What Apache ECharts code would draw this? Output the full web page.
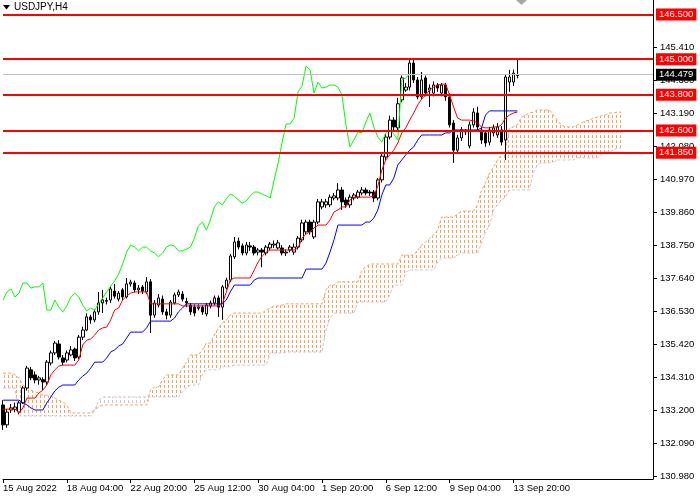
<!DOCTYPE html>
<html><head><meta charset="utf-8">
<script src="https://cdn.jsdelivr.net/npm/echarts@6/dist/echarts.min.js"></script>
<style>html,body{margin:0;padding:0;background:#fff}#c{width:700px;height:500px}</style>
</head><body><div id="c"></div>
<script>
// ---- tick labels ----
const timeTickLabels = ['15 Aug 2022','18 Aug 04:00','22 Aug 20:00','25 Aug 12:00','30 Aug 04:00','1 Sep 20:00','6 Sep 12:00','9 Sep 04:00','13 Sep 20:00'];
const priceTicks = [130.98,132.09,133.20,134.31,135.42,136.53,137.64,138.75,139.86,140.97,142.08,143.19,144.30,145.41];
const levelLines = [146.5,145.0,143.8,142.6,141.85];
const lastPrice = 144.479;
const symbolTitle = 'USDJPY,H4';
const barSlots = 164; // visible bar slots (H4 bars + future cloud)

// ---- H4 candles ----
const open = [133.37,132.70,133.20,133.22,133.13,133.44,133.94,134.55,134.38,134.21,
134.22,134.14,134.78,135.12,135.42,134.95,134.88,135.05,135.25,134.98,
135.65,135.89,136.33,136.23,136.50,136.80,136.88,136.90,137.20,136.93,
137.24,137.00,137.44,137.47,137.24,137.34,137.17,137.51,136.39,136.73,
136.93,136.50,136.39,136.80,137.07,137.10,136.85,136.73,136.66,136.62,
136.66,136.43,136.70,136.80,136.97,136.66,137.30,137.57,138.35,138.88,
138.72,138.48,138.72,138.68,138.51,138.58,138.48,138.65,138.75,138.65,
138.65,138.48,138.58,138.51,138.68,138.92,139.19,139.52,139.02,139.52,
140.03,140.10,140.10,140.33,140.33,140.60,140.26,140.10,140.33,140.36,
140.50,140.60,140.53,140.53,140.33,140.94,141.71,142.38,142.95,142.69,
143.63,143.96,144.06,144.87,144.30,143.73,144.37,143.96,143.86,144.13,
143.86,144.13,143.73,142.85,141.94,142.35,142.55,142.08,142.79,143.19,
142.62,142.52,142.21,142.52,142.45,142.62,142.28,144.23,144.23,144.45];
const close = [132.70,133.13,133.27,133.30,133.44,133.94,134.61,134.28,134.21,134.28,
134.14,134.81,135.12,135.45,134.98,134.81,135.12,135.22,134.95,135.65,
135.89,136.33,136.23,136.50,136.80,136.90,136.86,137.27,137.03,137.13,
137.00,137.44,137.50,137.24,137.30,137.20,137.51,136.39,136.80,136.97,
136.50,136.39,136.83,137.07,137.17,136.93,136.80,136.50,136.46,136.66,
136.50,136.73,136.80,136.97,136.66,137.34,137.57,138.38,138.85,138.68,
138.48,138.75,138.68,138.48,138.58,138.51,138.68,138.78,138.78,138.82,
138.48,138.51,138.68,138.68,138.98,139.49,139.52,139.19,139.52,140.20,
140.20,140.20,140.36,140.40,140.60,140.20,140.10,140.36,140.43,140.53,
140.60,140.50,140.50,140.33,140.94,141.74,142.38,142.95,142.72,143.50,
144.37,144.06,144.87,144.30,143.73,144.30,143.86,144.03,144.13,144.03,
144.13,143.73,142.79,141.94,142.35,142.62,142.58,142.79,143.22,142.72,
142.28,142.18,142.62,142.69,142.72,142.21,144.40,144.40,144.53,144.479];
const low = [132.53,132.60,133.10,133.12,133.05,133.40,133.85,134.20,134.10,134.05,
133.87,134.05,134.70,135.05,134.90,134.70,134.80,135.00,134.85,134.90,
135.55,135.85,136.10,136.15,136.40,136.46,136.75,136.80,136.95,136.85,
136.90,136.95,137.35,137.15,137.10,137.10,137.10,135.79,136.30,136.65,
136.40,136.25,136.30,136.75,137.00,136.85,136.66,136.40,136.35,136.55,
136.40,136.35,136.62,136.72,136.33,136.23,137.25,137.50,138.28,138.60,
138.40,138.40,138.55,138.40,138.40,138.00,138.40,138.58,138.65,138.60,
138.40,138.38,138.50,138.42,138.60,138.85,139.10,139.10,138.95,139.45,
139.95,140.00,140.02,140.25,140.25,139.93,140.00,140.00,140.25,140.30,
140.42,140.42,140.40,140.20,140.25,140.85,141.60,142.30,142.60,142.60,
143.55,143.90,143.95,144.20,143.65,143.65,143.75,143.39,143.75,143.90,
143.75,143.60,142.70,141.51,141.85,142.25,142.45,142.00,142.70,142.60,
142.15,142.05,142.10,142.40,142.35,142.10,141.61,143.90,144.10,144.35];
const high = [133.53,133.23,133.40,133.45,133.50,134.01,134.68,134.65,134.50,134.35,
134.30,134.88,135.20,135.52,135.55,135.05,135.20,135.35,135.30,135.72,
136.00,136.45,136.40,136.58,137.17,137.24,136.98,137.35,137.44,137.20,
137.30,137.64,137.58,137.55,137.40,137.40,137.67,137.60,136.90,137.10,
137.05,136.60,136.90,137.15,137.25,137.20,136.97,136.80,136.75,136.75,
136.72,136.80,136.88,137.05,137.05,137.40,137.65,138.45,139.02,139.00,
138.80,138.85,138.85,138.75,138.65,138.65,138.75,138.85,138.90,138.92,
138.75,138.60,138.75,138.80,139.05,139.60,139.60,139.60,139.60,140.30,
140.30,140.30,140.45,140.50,140.83,140.70,140.35,140.45,140.50,140.60,
140.70,140.68,140.60,140.60,141.00,141.85,142.50,143.10,143.05,143.70,
144.45,144.20,144.97,144.99,144.40,144.57,144.45,144.15,144.25,144.20,
144.20,144.20,143.85,142.95,142.45,142.72,142.65,142.90,143.35,143.40,
142.72,142.60,142.72,142.80,142.85,142.75,144.50,144.64,144.65,144.97];

// ---- Ichimoku lines ----
const tenkan = [133.23,133.23,133.23,133.23,133.10,133.27,133.60,133.60,133.60,133.77,
133.87,134.04,134.38,134.55,134.68,134.71,134.71,134.71,134.71,134.88,
135.39,135.55,135.59,135.72,135.89,135.96,135.99,136.23,136.56,136.63,
136.90,137.03,137.13,137.17,137.17,137.17,137.17,136.77,136.77,136.77,
136.77,136.77,136.77,136.77,136.77,136.70,136.70,136.70,136.70,136.70,
136.70,136.70,136.70,136.70,136.70,136.77,137.17,137.57,137.64,137.64,
137.64,137.64,137.64,137.91,138.18,138.38,138.51,138.58,138.58,138.58,
138.58,138.58,138.58,138.58,138.65,138.98,139.12,139.19,139.32,139.42,
139.42,139.42,139.59,139.86,139.93,140.03,140.03,140.26,140.36,140.36,
140.36,140.36,140.36,140.40,140.73,141.27,141.61,141.78,141.94,142.18,
142.52,142.69,142.95,143.19,143.46,143.66,143.79,143.96,144.06,144.13,
144.16,144.16,143.79,143.39,143.02,142.95,142.95,142.95,142.92,142.85,
142.72,142.69,142.69,142.72,142.72,142.79,143.02,143.12,143.19,143.22];
const kijun = [133.53,133.53,133.53,133.53,133.53,133.44,133.37,133.27,133.20,133.20,
133.20,133.44,133.64,133.84,133.97,134.04,134.04,134.04,134.04,134.21,
134.34,134.44,134.61,134.81,134.81,134.81,134.95,135.15,135.22,135.35,
135.42,135.62,135.82,135.82,135.82,135.82,135.96,136.19,136.19,136.19,
136.19,136.19,136.19,136.29,136.50,136.63,136.77,136.77,136.77,136.77,
136.77,136.77,136.77,136.77,136.77,136.77,136.90,137.17,137.40,137.40,
137.40,137.40,137.40,137.57,137.64,137.64,137.64,137.64,137.64,137.64,
137.64,137.64,137.64,137.64,137.64,137.64,137.94,137.94,137.94,137.94,
137.94,138.14,138.51,138.92,139.42,139.42,139.42,139.42,139.42,139.42,
139.42,139.52,139.52,139.66,139.93,140.43,140.77,140.77,141.00,141.44,
141.61,141.78,141.94,142.05,142.28,142.45,142.45,142.45,142.45,142.45,
142.45,142.52,142.52,142.62,142.62,142.62,142.62,142.62,142.62,142.62,
142.69,143.12,143.26,143.26,143.26,143.26,143.26,143.26,143.26,143.26];
const chikou = [136.90,137.17,137.27,137.00,137.13,137.47,137.47,137.30,137.34,137.34,
137.47,136.56,136.56,136.90,136.66,136.50,136.70,137.00,137.13,137.00,
136.73,136.53,136.63,136.56,136.77,136.97,137.17,137.37,137.54,137.77,
138.11,138.51,138.75,138.68,138.55,138.68,138.68,138.55,138.48,138.35,
138.48,138.68,138.75,138.72,138.55,138.55,138.61,138.68,138.98,139.39,
139.52,139.25,139.59,140.03,140.20,140.10,140.30,140.46,140.40,140.26,
140.16,140.23,140.40,140.53,140.53,140.46,140.40,140.33,140.94,141.51,
142.21,142.82,142.82,143.02,143.90,144.10,144.77,144.64,143.86,144.23,
144.03,144.06,144.13,144.13,144.06,143.79,142.79,142.05,142.28,142.55,
142.52,142.89,143.19,142.72,142.38,142.21,142.52,142.62,142.48,142.28,
144.30,144.37,144.50,144.47];
const spanA = [134.44,134.44,134.44,134.38,134.28,134.04,133.94,133.87,133.81,133.77,
133.70,133.70,133.67,133.60,133.53,133.47,133.37,133.10,133.10,133.10,
133.10,133.10,133.10,133.20,133.30,133.37,133.37,133.37,133.37,133.37,
133.37,133.37,133.37,133.37,133.37,133.37,133.37,133.87,133.97,133.97,
134.21,134.38,134.38,134.38,134.38,134.61,134.81,135.05,135.05,135.05,
135.22,135.45,135.45,135.72,135.96,136.13,136.23,136.39,136.46,136.46,
136.46,136.46,136.46,136.46,136.46,136.46,136.56,136.63,136.70,136.70,
136.73,136.77,136.77,136.77,136.77,136.77,136.77,136.77,136.77,136.77,
136.77,137.24,137.40,137.40,137.51,137.51,137.51,137.51,137.51,137.51,
137.91,138.01,138.11,138.11,138.11,138.11,138.11,138.11,138.11,138.11,
138.41,138.41,138.41,138.41,138.58,138.75,138.85,138.98,139.09,139.25,
139.69,139.69,139.69,139.69,139.79,139.89,139.89,139.89,139.89,140.10,
140.60,140.83,141.17,141.37,141.61,141.78,141.94,142.69,142.72,142.79,
143.05,143.12,143.19,143.22,143.29,143.29,143.29,143.29,143.12,142.95,
142.79,142.72,142.72,142.72,142.79,142.85,142.92,142.95,143.02,143.05,
143.09,143.12,143.19,143.19,143.22,143.22];
const spanB = [133.94,133.94,133.94,133.94,133.00,133.00,133.00,133.00,133.00,133.00,
133.00,133.00,133.00,133.00,133.00,133.00,133.00,133.00,133.00,133.00,
133.00,133.00,133.00,133.20,133.53,133.64,133.64,133.64,133.64,133.64,
133.64,133.64,133.64,133.64,133.64,133.64,133.64,133.64,133.64,133.64,
133.64,133.64,133.64,133.64,133.64,133.81,133.94,134.04,134.04,134.04,
134.38,134.55,134.55,134.55,134.55,134.65,134.65,134.65,134.71,134.71,
134.71,134.71,134.71,134.71,134.71,134.71,134.71,135.12,135.12,135.12,
135.12,135.15,135.15,135.15,135.15,135.15,135.15,135.15,135.15,135.15,
135.15,135.89,136.29,136.46,136.46,136.46,136.46,136.46,136.46,136.83,
136.83,136.83,136.83,136.83,136.83,136.83,136.83,137.07,137.40,137.40,
137.40,137.84,137.91,137.91,137.91,137.91,137.91,137.91,137.91,138.18,
138.31,138.31,138.31,138.31,138.41,138.48,138.48,138.48,138.48,138.48,
138.82,139.19,139.42,139.93,140.10,140.26,140.36,140.60,140.60,140.60,
140.60,140.60,140.60,141.20,141.44,141.51,141.51,141.51,141.54,141.61,
141.61,141.61,141.61,141.61,141.68,141.68,141.68,141.68,141.68,141.68,
141.78,141.88,141.88,141.94,142.01,142.01];

// ---- build ----
const cats = Array.from({length: barSlots}, (_, i) => String(i));
const candles = open.map((o, i) => [o, close[i], low[i], high[i]]);
const cloudBase = spanA.map((a, i) => Math.min(a, spanB[i]));
const cloudUp = spanA.map((a, i) => a > spanB[i] ? +(a - spanB[i]).toFixed(4) : 0);
const cloudDown = spanA.map((a, i) => spanB[i] > a ? +(spanB[i] - a).toFixed(4) : 0);

function hatch(color) {
  const c = document.createElement('canvas');
  c.width = 4; c.height = 5;
  const g = c.getContext('2d');
  g.fillStyle = color;
  g.fillRect(0, 0, 1, 3);
  return c;
}
const FONT = 'Liberation Sans';
const chart = echarts.init(document.getElementById('c'), null, {renderer: 'canvas'});
const levelData = [{
  yAxis: lastPrice,
  lineStyle: {color: '#c0c0c0', width: 1, type: 'solid'},
  label: {backgroundColor: '#000', color: '#fff', formatter: lastPrice.toFixed(3)}
}].concat(levelLines.map(v => ({
  yAxis: v,
  lineStyle: {color: '#ff0000', width: 2, type: 'solid'},
  label: {backgroundColor: '#ff0000', color: '#fff', formatter: v.toFixed(3)}
})));

chart.setOption({
  animation: false,
  backgroundColor: '#fff',
  grid: {left: 0, right: 47, top: 0, bottom: 21, containLabel: false},
  xAxis: {
    type: 'category', data: cats, boundaryGap: false,
    axisLine: {lineStyle: {color: '#000', width: 1}},
    axisTick: {interval: i => i % 16 === 0 && i <= 128, length: 4, lineStyle: {color: '#000'}},
    axisLabel: {
      interval: i => i % 16 === 0 && i <= 128,
      formatter: (v, idx) => timeTickLabels[idx / 16] || '',
      align: 'left', color: '#000', fontSize: 9.5, fontFamily: FONT, margin: 4
    },
    splitLine: {show: false}
  },
  yAxis: {
    type: 'value', position: 'right', min: 130.879, max: 146.99,
    axisLine: {show: true, lineStyle: {color: '#000', width: 1}},
    axisTick: {show: true, customValues: priceTicks, length: 4, lineStyle: {color: '#000'}},
    axisLabel: {customValues: priceTicks, formatter: v => v.toFixed(3), color: '#000',
      fontSize: 9.5, fontFamily: FONT, margin: 7},
    splitLine: {show: false}
  },
  graphic: [
    {type: 'polygon', shape: {points: [[3, 5], [10, 5], [6.5, 9.5]]}, style: {fill: '#000'}},
    {type: 'text', left: 14, top: 2, style: {text: symbolTitle, fill: '#000', font: '10px "Liberation Sans"'}},
    {type: 'polygon', shape: {points: [[516, 0], [527, 0], [521.5, 5]]}, style: {fill: '#a8a8a8'}}
  ],
  series: [
    {name: 'cloudBase', type: 'line', data: cloudBase, stack: 'cloud', symbol: 'none',
      lineStyle: {opacity: 0}, z: 1, silent: true},
    {name: 'cloudUp', type: 'line', data: cloudUp, stack: 'cloud', symbol: 'none',
      lineStyle: {opacity: 0}, areaStyle: {color: {image: hatch('#F4A460'), repeat: 'repeat'}, opacity: 1}, z: 1, silent: true},
    {name: 'cloudDown', type: 'line', data: cloudDown, stack: 'cloud', symbol: 'none',
      lineStyle: {opacity: 0}, areaStyle: {color: {image: hatch('#D8BFD8'), repeat: 'repeat'}, opacity: 1}, z: 1, silent: true},
    {name: 'Senkou B', type: 'line', data: spanB, symbol: 'none', lineStyle: {color: '#D8BFD8', width: 1, type: [3, 2]}, z: 2},
    {name: 'Senkou A', type: 'line', data: spanA, symbol: 'none', lineStyle: {color: '#F4A460', width: 1, type: [3, 2]}, z: 2},
    {name: 'USDJPY', type: 'candlestick', data: candles, barWidth: 3, z: 3,
      itemStyle: {color: '#ffffff', color0: '#000000', borderColor: '#000000', borderColor0: '#000000', borderColorDoji: '#000000', borderWidth: 1}},
    {name: 'Chikou', type: 'line', data: chikou, symbol: 'none', lineStyle: {color: '#00ff00', width: 1}, z: 4},
    {name: 'Kijun', type: 'line', data: kijun, symbol: 'none', lineStyle: {color: '#0000ff', width: 1}, z: 4},
    {name: 'Tenkan', type: 'line', data: tenkan, symbol: 'none', lineStyle: {color: '#ff0000', width: 1}, z: 4},
    {name: 'levels', type: 'line', data: [], z: 10, silent: true,
      markLine: {
        silent: true, symbol: ['none', 'none'], animation: false,
        label: {show: true, position: 'end', distance: 3,
          fontSize: 9.5, fontFamily: FONT, padding: [1, 3, 0, 3], lineHeight: 11},
        data: levelData
      }}
  ]
});
</script></body></html>
